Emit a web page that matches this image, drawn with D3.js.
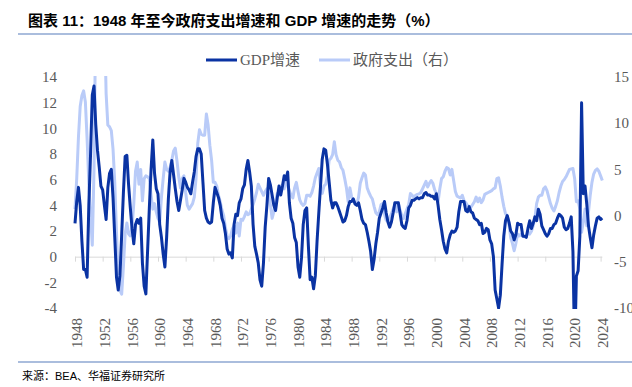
<!DOCTYPE html>
<html>
<head>
<meta charset="utf-8">
<script src="https://cdn.jsdelivr.net/npm/d3@7"></script>
<style>
  html, body { margin: 0; padding: 0; background: #fff; }
  svg { display: block; }
</style>
</head>
<body>
<svg id="chart"></svg>
<script>
const W = 632, H = 387;

// quarterly data, 1948Q1 .. 2024Q2
const startYear = 1948;
const yearTicks = d3.range(1948, 2025, 4);
const leftTicks = [-4, -2, 0, 2, 4, 6, 8, 10, 12, 14];
const rightTicks = [-10, -5, 0, 5, 10, 15];
const seriesNames = ["GDP增速", "政府支出（右）"];

// real GDP, % yoy (left axis)
const gdpYoY = [
  2.6, 4.3, 5.4, 4.0,     // 1948
  1.2, -1.0, -1.0, -1.6,
  4.0, 8.0, 12.6, 13.3,   // 1950
  10.3, 8.3, 7.0, 5.5,
  5.2, 4.0, 2.9, 5.4,
  6.5, 6.8, 4.6, 1.5,
  -1.6, -2.6, -1.5, 1.7,
  5.0, 7.8, 7.9, 5.6,     // 1955
  3.8, 2.2, 1.0, 2.5,
  2.9, 2.6, 3.0, -0.5,
  -2.3, -2.9, 0.5, 3.8,
  6.8, 9.1, 6.5, 5.3,
  4.9, 2.5, 1.5, 0.2,     // 1960
  -0.8, 1.5, 4.5, 6.6,
  7.5, 6.4, 5.3, 4.3,
  3.6, 4.4, 5.2, 6.1,
  5.8, 5.4, 5.2, 4.9,
  5.8, 6.6, 7.8, 8.4,     // 1965
  8.4, 8.0, 5.8, 3.6,
  3.0, 2.7, 2.6, 2.7,
  4.2, 5.4, 5.0, 4.6,
  4.0, 3.0, 2.6, 1.8,
  0.6, 0.2, 0.3, -0.1,    // 1970
  2.5, 3.3, 3.2, 4.2,
  4.5, 5.3, 5.6, 6.8,
  7.5, 6.6, 5.5, 2.5,
  0.8, 0.2, -0.5, -1.8,
  -2.3, -0.5, 2.3, 4.0,   // 1975
  6.1, 5.6, 4.8, 4.0,
  3.6, 4.6, 5.5, 4.8,
  5.5, 6.3, 6.0, 6.6,
  4.2, 3.0, 2.6, 1.5,
  1.1, -0.8, -1.6, -0.1,  // 1980
  2.5, 3.6, 3.8, 0.8,
  -1.8, -1.6, -2.5, -1.5,
  1.2, 3.4, 5.5, 7.6,
  8.4, 8.3, 7.2, 5.8,
  4.4, 3.8, 4.2, 4.2,     // 1985
  3.9, 3.5, 3.1, 2.7,
  2.8, 3.2, 3.9, 4.3,
  4.3, 4.5, 4.1, 4.0,
  4.2, 3.6, 2.9, 2.6,
  2.5, 1.9, 1.2, 0.4,     // 1990
  -1.0, -0.2, 1.0, 1.9,
  3.0, 3.4, 3.8, 4.3,
  3.4, 2.7, 2.3, 2.7,
  3.4, 4.2, 4.2, 4.2,
  3.4, 2.5, 2.3, 2.2,     // 1995
  2.8, 3.8, 4.0, 4.4,
  4.4, 4.5, 4.6, 4.5,
  4.6, 4.6, 4.9, 5.0,
  4.8, 4.8, 4.7, 4.7,
  4.5, 4.9, 4.0, 2.9,     // 2000
  2.1, 1.2, 0.6, 0.3,
  1.2, 1.7, 2.0, 1.9,
  2.0, 2.3, 3.5, 4.3,
  4.3, 4.3, 3.6, 3.5,
  3.9, 3.5, 3.4, 3.0,     // 2005
  2.9, 2.8, 2.5, 2.6,
  1.8, 1.9, 2.2, 2.1,
  1.3, 1.0, 0.0, -2.6,
  -3.3, -4.0, -3.0, -0.6,
  1.6, 2.8, 3.2, 2.7,     // 2010
  2.0, 1.8, 1.3, 1.7,
  2.6, 2.5, 2.5, 1.6,
  1.6, 1.5, 2.2, 2.8,
  2.2, 2.6, 3.1, 2.8,
  3.7, 3.3, 2.4, 2.1,     // 2015
  1.8, 1.6, 1.8, 2.2,
  2.2, 2.5, 2.6, 3.0,
  3.3, 3.2, 3.0, 2.3,
  2.1, 2.2, 2.6, 3.1,
  0.4, -7.5, -1.5, -1.1,  // 2020
  1.6, 12.0, 4.9, 5.5,
  4.1, 2.4, 1.5, 0.7,
  1.7, 2.4, 3.0, 3.1,
  2.9, 3.0                // 2024
];

// government spending, % yoy (right axis)
const govYoY = [
  0.7, 4.0, 8.5, 11.8,    // 1948
  13.0, 13.5, 12.3, 8.3,
  3.5, 0.0, -3.2, 5.0,    // 1950
  22, 33, 42, 40,
  32, 22, 13.2, 9.8,
  9.6, 9.2, 7.2, 3.6,
  -1.8, -6.5, -8.1, -8.5,
  -5.5, -2.0, -0.8, -2.0, // 1955
  -2.2, -1.2, 1.3, 4.8,
  5.8, 3.4, 5.0, 1.6,
  4.0, 4.3, 4.2, 4.0,
  2.2, 0.7, 1.3, 0.4,
  -0.3, -0.7, 2.0, 4.0,   // 1960
  5.8, 5.0, 4.8, 5.2,
  6.0, 7.0, 7.3, 5.9,
  4.2, 3.0, 4.0, 4.3,
  2.5, 1.1, 0.7, 1.0,
  1.3, 2.0, 4.0, 7.8,     // 1965
  9.3, 8.8, 8.7, 8.7,
  11.0, 9.8, 7.6, 6.0,
  3.6, 3.6, 3.2, 2.2,
  1.5, 0.6, 0.0, -1.3,
  -2.2, -2.5, -2.2, -1.45, // 1970
  -1.1, -1.9, -0.8, -2.2,
  -0.4, -0.5, -0.1, 0.4,
  0.1, 0.2, 0.7, 1.2,
  1.8, 2.5, 3.4, 3.0,
  2.6, 2.2, 2.6, 2.9,     // 1975
  2.4, 1.2, -0.3, 0.4,
  1.5, 2.4, 2.2, 3.2,
  3.0, 2.9, 4.0, 3.2,
  2.7, 2.2, 1.9, 3.0,
  3.6, 2.6, 1.7, 1.3,     // 1980
  1.1, 1.3, 2.2, 2.2,
  2.1, 2.5, 3.2, 4.1,
  4.6, 5.1, 3.0, 2.4,
  3.2, 3.4, 4.3, 6.0,
  6.2, 6.6, 8.0, 6.6,     // 1985
  6.0, 5.8, 5.2, 4.9,
  4.0, 3.0, 1.5, 3.0,
  2.0, 1.6, 1.3, 1.2,
  2.0, 3.5, 4.1, 4.6,
  4.4, 3.0, 2.5, 2.1,     // 1990
  1.8, 1.0, 0.3, 0.1,
  0.4, 1.2, 1.3, 0.1,
  -0.5, -0.5, -0.2, 0.2,
  0.7, 1.1, 0.4, 1.4,
  0.6, 0.0, -0.3, 0.2,    // 1995
  0.7, 1.2, 2.4, 2.2,
  2.0, 2.2, 2.3, 2.35,
  2.5, 2.9, 3.3, 3.7,
  3.1, 3.5, 3.8, 3.5,
  2.8, 2.4, 1.5, 2.9,     // 2000
  4.0, 4.2, 4.8, 5.2,
  5.1, 4.4, 5.0, 3.8,
  2.6, 2.1, 2.0, 1.9,
  2.2, 1.6, 1.4, 1.1,
  1.0, 0.9, 1.2, 1.5,     // 2005
  2.0, 1.5, 1.9, 1.4,
  1.7, 2.3, 2.4, 2.5,
  2.6, 2.7, 2.9, 3.0,
  4.0, 4.1, 3.2, 2.0,
  1.0, 0.2, 0.0, -0.9,    // 2010
  -2.4, -3.0, -3.8, -3.0,
  -2.0, -2.2, -2.0, -2.2,
  -2.3, -2.3, -1.8, -2.0,
  -1.7, -1.1, -0.3, 1.3,
  2.0, 2.2, 2.2, 2.9,     // 2015
  3.1, 2.7, 2.0, 1.3,
  0.8, 0.5, 1.0, 1.6,
  2.5, 3.2, 3.7, 3.9,
  4.2, 4.6, 5.0, 5.05,
  5.1, 4.0, 1.5, 1.6,     // 2020
  0.7, -1.8, -0.7, 0.7,
  -1.1, 0.4, 2.2, 3.6,
  4.5, 4.9, 5.05, 4.8,
  4.3, 3.8                // 2024
];

const quarters = gdpYoY.map((d, i) => `${startYear + Math.floor(i / 4)}Q${i % 4 + 1}`);

const darkBlue = "#0a33a3";
const lightBlue = "#b9cbf8";
const tickColor = "#595959";
const serif = "'Liberation Serif', 'Times New Roman', 'Noto Sans CJK SC', serif";
const sans = "'Liberation Sans', Arial, 'Noto Sans CJK SC', sans-serif";

const svg = d3.select("#chart")
    .attr("width", W)
    .attr("height", H)
    .style("background", "#fff");

// header / footer
svg.append("text")
    .attr("x", 28)
    .attr("y", 26)
    .style("font-family", sans)
    .style("font-size", "15px")
    .style("font-weight", "bold")
    .style("fill", "#000")
    .text("图表 11：1948 年至今政府支出增速和 GDP 增速的走势（%）");

svg.append("line")
    .attr("x1", 18).attr("x2", W)
    .attr("y1", 34).attr("y2", 34)
    .attr("stroke", "#8ea7d2")
    .attr("stroke-width", 1.5);

svg.append("line")
    .attr("x1", 18).attr("x2", W)
    .attr("y1", 362).attr("y2", 362)
    .attr("stroke", "#8ea7d2")
    .attr("stroke-width", 1.5);

svg.append("text")
    .attr("x", 22)
    .attr("y", 380)
    .style("font-family", sans)
    .style("font-size", "11px")
    .style("fill", "#000")
    .text("来源：BEA、华福证券研究所");

// scales
const x = d3.scaleLinear()
    .domain([0, 304])
    .range([75, 600.6]);

const yL = d3.scaleLinear()
    .domain([-4, 14])
    .range([308, 77]);

const yR = d3.scaleLinear()
    .domain([-10, 15])
    .range([308, 77]);

// axes
const xAxis = svg.append("g")
    .attr("transform", `translate(0,${yL(0)})`)
    .call(d3.axisBottom(x)
        .tickValues(yearTicks.map(y => (y - startYear) * 4))
        .tickSize(5)
        .tickFormat(""));
xAxis.select(".domain").attr("stroke", "#d9d9d9").attr("d", `M${x(0)},0.5H${x(305)}`);
xAxis.selectAll(".tick line").attr("stroke", "#d9d9d9");

svg.append("g")
    .selectAll("text")
    .data(yearTicks)
    .join("text")
    .attr("transform", d => `translate(${x((d - startYear) * 4) + 2},318) rotate(-90)`)
    .attr("dy", "0.35em")
    .attr("text-anchor", "end")
    .style("font-family", serif)
    .style("font-size", "15px")
    .style("fill", tickColor)
    .text(d => d);

svg.append("g")
    .selectAll("text")
    .data(leftTicks)
    .join("text")
    .attr("x", 57)
    .attr("y", d => yL(d))
    .attr("dy", "0.35em")
    .attr("text-anchor", "end")
    .style("font-family", serif)
    .style("font-size", "15px")
    .style("fill", tickColor)
    .text(d => d);

svg.append("g")
    .selectAll("text")
    .data(rightTicks)
    .join("text")
    .attr("x", 614)
    .attr("y", d => yR(d))
    .attr("dy", "0.35em")
    .attr("text-anchor", "start")
    .style("font-family", serif)
    .style("font-size", "15px")
    .style("fill", tickColor)
    .text(d => d);

// lines, clipped to the plot area
svg.append("clipPath")
    .attr("id", "plotClip")
    .append("rect")
    .attr("x", 60).attr("y", 76)
    .attr("width", 560).attr("height", 233);

const plot = svg.append("g").attr("clip-path", "url(#plotClip)");

const govLine = d3.line()
    .x((d, i) => x(i))
    .y(d => yR(d));

const gdpLine = d3.line()
    .x((d, i) => x(i))
    .y(d => yL(d));

plot.append("path")
    .datum(govYoY)
    .attr("d", govLine)
    .attr("fill", "none")
    .attr("stroke", lightBlue)
    .attr("stroke-width", 3)
    .attr("stroke-linejoin", "round");

plot.append("path")
    .datum(gdpYoY)
    .attr("d", gdpLine)
    .attr("fill", "none")
    .attr("stroke", darkBlue)
    .attr("stroke-width", 3)
    .attr("stroke-linejoin", "round");

// legend
const legendItems = [
    { name: seriesNames[0], color: darkBlue, x: 206 },
    { name: seriesNames[1], color: lightBlue, x: 319 }
];

const legend = svg.selectAll(".legend")
    .data(legendItems)
    .join("g")
    .attr("class", "legend")
    .attr("transform", d => `translate(${d.x},60)`);

legend.append("line")
    .attr("x1", 0).attr("x2", 31)
    .attr("stroke", d => d.color)
    .attr("stroke-width", 3);

legend.append("text")
    .attr("x", 34)
    .attr("dy", "0.35em")
    .style("font-family", serif)
    .style("font-size", "15px")
    .style("fill", tickColor)
    .text(d => d.name);
</script>
</body>
</html>
